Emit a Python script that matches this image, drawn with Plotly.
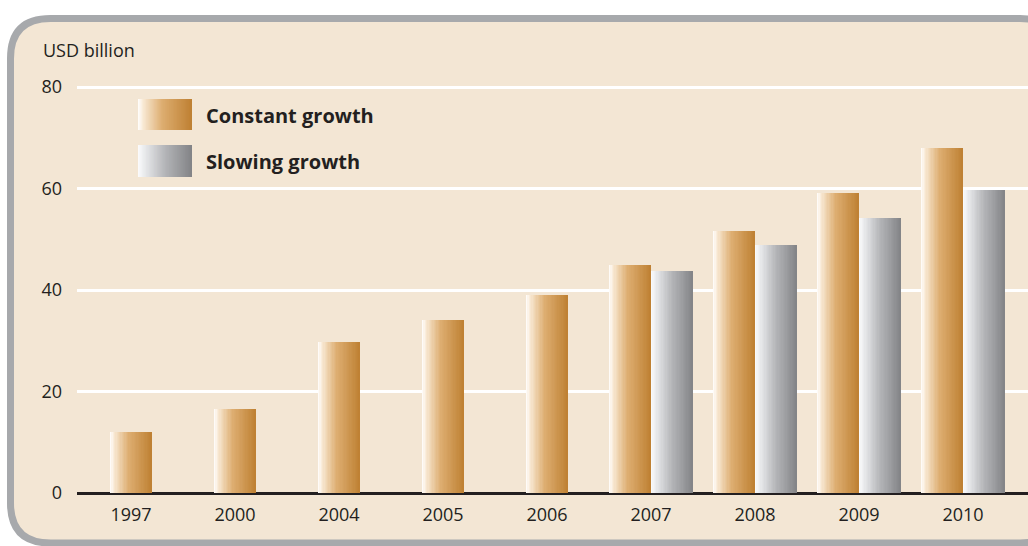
import plotly.graph_objects as go

# ---- data ----
years = ["1997", "2000", "2004", "2005", "2006", "2007", "2008", "2009", "2010"]
constant_growth = [12.0, 16.5, 29.8, 34.1, 39.0, 44.9, 51.6, 59.1, 68.0]
slowing_growth = [None, None, None, None, None, 43.7, 48.9, 54.2, 59.7]
y_ticks = [0, 20, 40, 60, 80]

W, H = 1028, 546
ML, MR, MT, MB = 77, 0, 82, 53
PW, PH = W - ML - MR, H - MT - MB

BAR_W = 0.404
N = 32

def lerp(c1, c2, t):
    return tuple(round(a + (b - a) * t) for a, b in zip(c1, c2))

def grad(stops, t):
    for i in range(len(stops) - 1):
        t0, c0 = stops[i]
        t1, c1 = stops[i + 1]
        if t <= t1:
            return "rgb(%d,%d,%d)" % lerp(c0, c1, (t - t0) / (t1 - t0) if t1 > t0 else 0)
    return "rgb(%d,%d,%d)" % stops[-1][1]

orange_stops = [(0.0, (255, 255, 255)), (0.1, (248, 232, 210)), (0.45, (221, 173, 112)), (1.0, (190, 128, 50))]
grey_stops = [(0.0, (252, 252, 253)), (0.1, (236, 237, 239)), (0.5, (180, 181, 184)), (1.0, (130, 131, 134))]

x_idx = list(range(len(years)))
fig = go.Figure()

const_offsets = [(-BAR_W if s is not None else -BAR_W / 2) for s in slowing_growth]
for i in range(N):
    t = (i + 0.5) / N
    fig.add_trace(go.Bar(
        x=x_idx, y=constant_growth,
        offset=[o + i * BAR_W / N for o in const_offsets],
        width=BAR_W / N * (1.6 if i < N - 1 else 1.0),
        marker=dict(color=grad(orange_stops, t), line=dict(width=0)),
        showlegend=False, hoverinfo="skip"))
for i in range(N):
    t = (i + 0.5) / N
    fig.add_trace(go.Bar(
        x=x_idx, y=slowing_growth,
        offset=i * BAR_W / N,
        width=BAR_W / N * (1.6 if i < N - 1 else 1.0),
        marker=dict(color=grad(grey_stops, t), line=dict(width=0)),
        showlegend=False, hoverinfo="skip"))

def px_x(px):
    return (px - ML) / PW

def px_y(py):
    return (H - MB - py) / PH

shapes = []
# rounded frame (page pixel coordinates)
x0, x1, y0, y1, r = 10.5, 1060, 18.5, 543, 40
path = (f"M {px_x(x0)},{px_y(y0 + r)} "
        f"Q {px_x(x0)},{px_y(y0)} {px_x(x0 + r)},{px_y(y0)} "
        f"L {px_x(x1 - r)},{px_y(y0)} "
        f"Q {px_x(x1)},{px_y(y0)} {px_x(x1)},{px_y(y0 + r)} "
        f"L {px_x(x1)},{px_y(y1 - r)} "
        f"Q {px_x(x1)},{px_y(y1)} {px_x(x1 - r)},{px_y(y1)} "
        f"L {px_x(x0 + r)},{px_y(y1)} "
        f"Q {px_x(x0)},{px_y(y1)} {px_x(x0)},{px_y(y1 - r)} Z")
shapes.append(dict(type="path", xref="paper", yref="paper", path=path,
                   fillcolor="#f3e6d4", line=dict(color="#a7a9ac", width=7), layer="below"))

# legend swatches
def swatch(xa, xb, ya, yb, stops):
    n = 40
    for i in range(n):
        t = (i + 0.5) / n
        sx0 = xa + (xb - xa) * i / n
        sx1 = xa + (xb - xa) * (i + 1.8) / n
        shapes.append(dict(type="rect", xref="paper", yref="paper",
                           x0=px_x(sx0), x1=px_x(min(sx1, xb)), y0=px_y(yb), y1=px_y(ya),
                           fillcolor=grad(stops, t), line=dict(width=0), layer="above"))

swatch(138, 192, 99, 130, orange_stops)
swatch(138, 192, 145, 177, grey_stops)

annotations = [
    dict(text="USD billion", xref="paper", yref="paper", x=px_x(41), y=px_y(50),
         xanchor="left", yanchor="middle", showarrow=False,
         font=dict(size=18, color="#231f20")),
    dict(text="<b>Constant growth</b>", xref="paper", yref="paper", x=px_x(204), y=px_y(115),
         xanchor="left", yanchor="middle", showarrow=False,
         font=dict(size=20, color="#231f20")),
    dict(text="<b>Slowing growth</b>", xref="paper", yref="paper", x=px_x(204), y=px_y(161),
         xanchor="left", yanchor="middle", showarrow=False,
         font=dict(size=20, color="#231f20")),
]

fig.update_layout(
    width=W, height=H,
    margin=dict(l=ML, r=MR, t=MT, b=MB, pad=0),
    paper_bgcolor="white",
    plot_bgcolor="rgba(0,0,0,0)",
    font=dict(family="Open Sans, Noto Sans, sans-serif", color="#231f20", size=18),
    barmode="overlay",
    bargap=0,
    shapes=shapes,
    annotations=annotations,
    showlegend=False,
    xaxis=dict(range=[-0.519, 8.625], tickmode="array", tickvals=x_idx, ticktext=years,
               showgrid=False, zeroline=False, showline=False, ticks="",
               ticklabelstandoff=9, tickfont=dict(size=18, color="#231f20"), fixedrange=True),
    yaxis=dict(range=[0, 81], tickmode="array", tickvals=y_ticks,
               showgrid=True, gridcolor="white", gridwidth=3,
               zeroline=True, zerolinecolor="#231f20", zerolinewidth=3,
               showline=False, ticks="", ticklabelstandoff=14,
               tickfont=dict(size=18, color="#231f20"), fixedrange=True),
)

fig.write_html(
    "out.html",
    config={"displayModeBar": False},
    post_script="document.body.style.margin='0';document.body.style.overflow='hidden';",
)
